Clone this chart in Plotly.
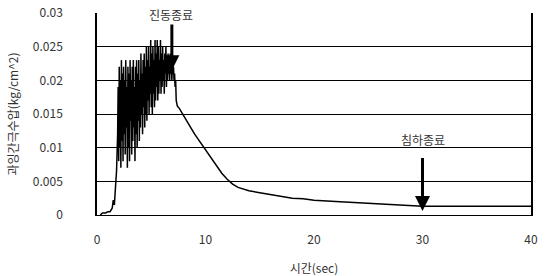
import plotly.graph_objects as go

# time (sec)
t_start = [0.3, 0.5, 0.8, 1.0, 1.2, 1.4, 1.5, 1.6, 1.7, 1.8]
p_start = [0.0, 0.3, 0.3, 0.5, 0.5, 1.0, 2.2, 1.5, 4.0, 6.5]

t_vib = [1.9, 1.95, 2.0, 2.05, 2.1, 2.15, 2.2, 2.25, 2.3, 2.35, 2.4, 2.45, 2.5, 2.55,
         2.6, 2.65, 2.7, 2.75, 2.8, 2.85, 2.9, 2.95, 3.0, 3.05, 3.1, 3.15, 3.2, 3.25,
         3.3, 3.35, 3.4, 3.45, 3.5, 3.55, 3.6, 3.65, 3.7, 3.75, 3.8, 3.85, 3.9, 3.95,
         4.0, 4.05, 4.1, 4.15, 4.2, 4.25, 4.3, 4.35, 4.4, 4.45, 4.5, 4.55, 4.6, 4.65,
         4.7, 4.75, 4.8, 4.85, 4.9, 4.95, 5.0, 5.05, 5.1, 5.15, 5.2, 5.25, 5.3, 5.35,
         5.4, 5.45, 5.5, 5.55, 5.6, 5.65, 5.7, 5.75, 5.8, 5.85, 5.9, 5.95, 6.0, 6.05,
         6.1, 6.15, 6.2, 6.25, 6.3, 6.35, 6.4, 6.45, 6.5, 6.55, 6.6, 6.65, 6.7, 6.75,
         6.8, 6.85, 6.9, 6.95, 7.0, 7.05, 7.1, 7.15, 7.2, 7.25, 7.3]
p_vib = [12, 19, 8, 22, 10, 20, 7, 23, 11, 21, 8, 22, 12, 20,
         9, 23, 13, 19, 7, 22, 10, 21, 8, 23, 14, 20, 9, 22,
         11, 23, 13, 19, 8, 22, 12, 23, 10, 21, 14, 23, 11, 20,
         13, 24, 15, 21, 12, 23, 16, 24, 13, 22, 15, 25, 14, 23,
         17, 25, 15, 22, 18, 26, 16, 24, 15, 25, 18, 23, 16, 26,
         17, 24, 19, 26, 17, 25, 18, 23, 20, 26, 18, 24, 19, 25,
         20, 23, 18, 24, 21, 25, 19, 23, 20, 24, 21, 22, 20, 24,
         21, 23, 20, 22, 21, 22, 20, 21, 19, 20, 17]

t_decay = [7.4, 7.6, 7.8, 8.0, 8.3, 8.6, 9.0, 9.5, 10.0, 10.5, 11.0, 11.5, 12.0,
           12.5, 13.0, 14.0, 15.0, 16.0, 17.0, 18.0, 19.0, 20.0, 22.0, 24.0, 26.0,
           28.0, 30.0, 32.0, 35.0, 38.0, 40.0]
p_decay = [16.2, 15.8, 15.3, 14.7, 13.9, 13.1, 12.0, 10.8, 9.8, 8.6, 7.3, 6.2, 5.3,
           4.6, 4.1, 3.6, 3.3, 3.0, 2.7, 2.5, 2.4, 2.2, 2.0, 1.8, 1.6,
           1.4, 1.3, 1.3, 1.3, 1.3, 1.3]

y_ticks = [0, 0.005, 0.01, 0.015, 0.02, 0.025, 0.03]
y_tick_text = ["0", "0.005", "0.01", "0.015", "0.02", "0.025", "0.03"]
x_ticks = [0, 10, 20, 30, 40]

t_all = t_start + t_vib + t_decay
p_all = [v / 1000 for v in (p_start + p_vib + p_decay)]

font_family = "Noto Sans CJK KR, Liberation Sans, Arial, sans-serif"

fig = go.Figure()
fig.add_trace(go.Scatter(x=t_all, y=p_all, mode="lines",
                         line=dict(color="black", width=1.5), showlegend=False,
                         hoverinfo="skip"))

fig.update_layout(
    width=545, height=276,
    margin=dict(l=97, r=14, t=13, b=61, autoexpand=False),
    paper_bgcolor="white", plot_bgcolor="white",
    font=dict(family=font_family, size=12, color="#333"),
    xaxis=dict(range=[0, 40], tickvals=x_ticks, showgrid=False, zeroline=False,
               showline=True, linecolor="black", linewidth=1, mirror=False,
               ticks="", ticklabelstandoff=14, automargin=False,
               title=dict(text="시간(sec)", standoff=20, font=dict(size=12))),
    yaxis=dict(range=[0, 0.03], tickvals=y_ticks, ticktext=y_tick_text,
               showgrid=True, gridcolor="black", gridwidth=1, zeroline=False,
               showline=True, linecolor="black", linewidth=1.5, mirror=True,
               ticks="", ticklabelstandoff=30, automargin=False,
               title=dict(text="과잉간극수압(kg/cm^2)", standoff=12, font=dict(size=12))),
)

# arrows
fig.add_annotation(x=6.9, y=0.0215, ax=6.9, ay=0.0292, xref="x", yref="y",
                   axref="x", ayref="y", text="", showarrow=True,
                   arrowhead=2, arrowsize=1, arrowwidth=3, arrowcolor="black")
fig.add_annotation(x=30, y=0.0006, ax=30, ay=0.0087, xref="x", yref="y",
                   axref="x", ayref="y", text="", showarrow=True,
                   arrowhead=2, arrowsize=1, arrowwidth=3, arrowcolor="black")
fig.add_annotation(x=6.8, y=0.0298, xref="x", yref="y", text="진동종료",
                   showarrow=False, font=dict(size=12, color="#333"),
                   bgcolor="white")
fig.add_annotation(x=30, y=0.0112, xref="x", yref="y", text="침하종료",
                   showarrow=False, font=dict(size=12, color="#333"))

fig.write_html("out.html", config={"displayModeBar": False},
               post_script="document.body.style.margin='0';document.body.style.overflow='hidden';")
